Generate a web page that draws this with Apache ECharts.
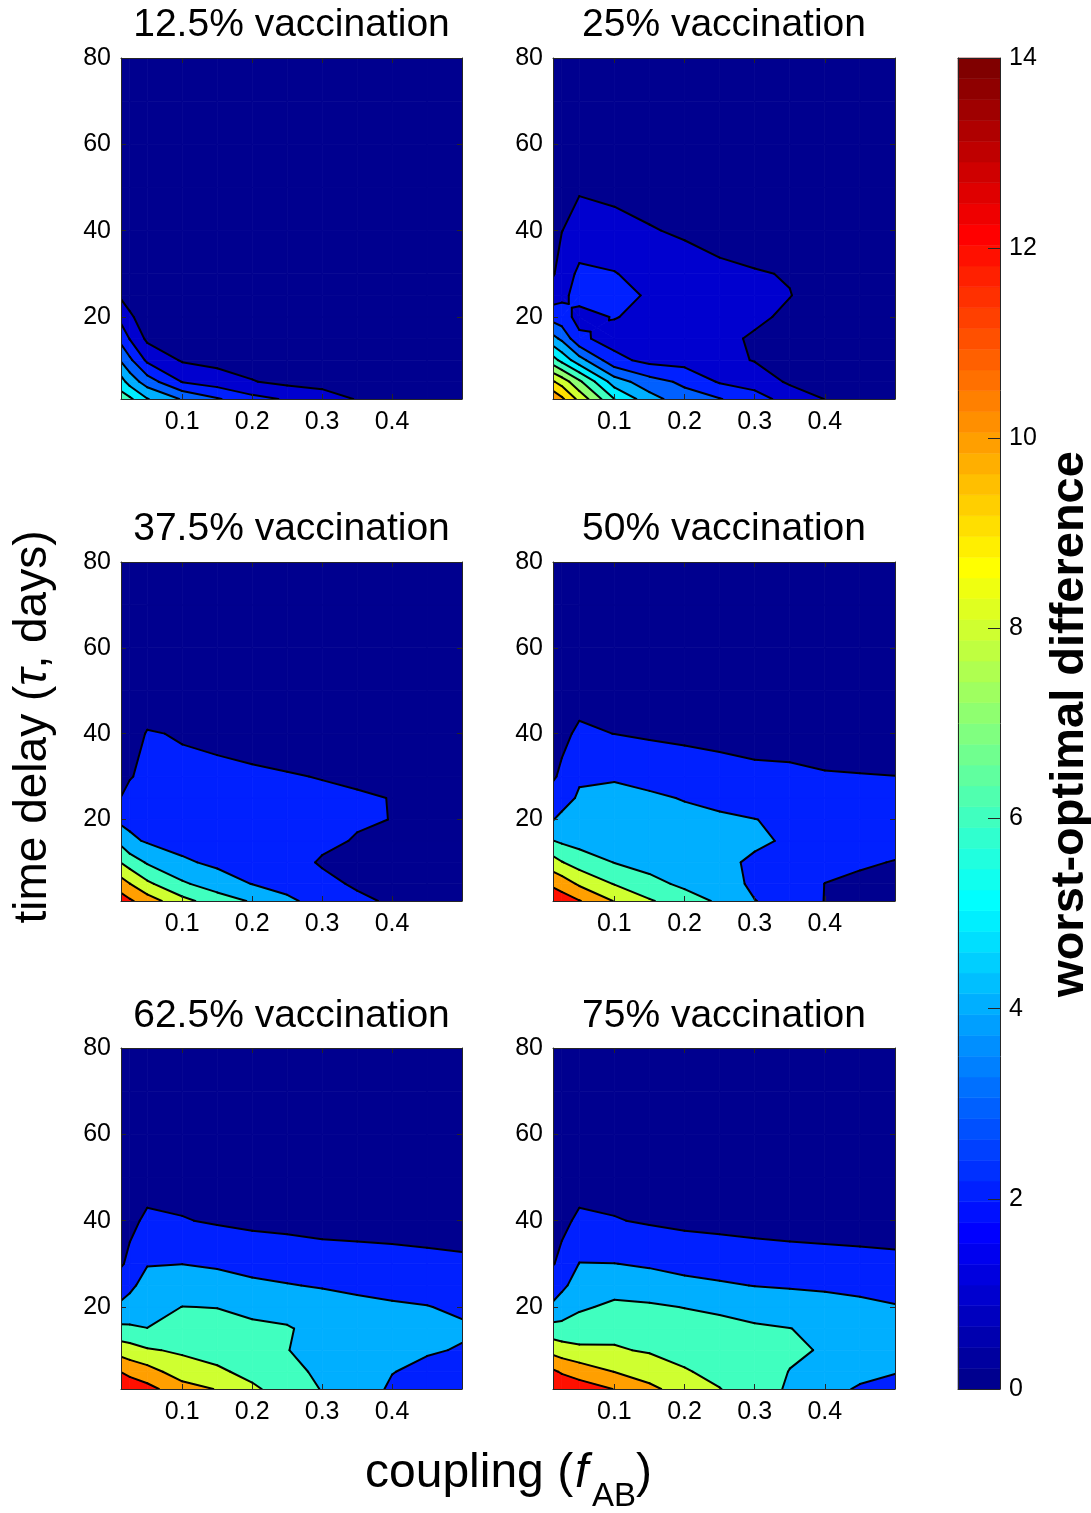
<!DOCTYPE html>
<html>
<head>
<meta charset="utf-8">
<title>worst-optimal difference</title>
<script src="https://cdn.jsdelivr.net/npm/echarts@6.0.0/dist/echarts.min.js"></script>
<style>
html, body { margin: 0; padding: 0; background: #fff; }
#chart { width: 1091px; height: 1513px; }
</style>
</head>
<body>
<div id="chart"></div>
<script>
// grid of the simulations
var coupling = [0.0125, 0.025, 0.05, 0.1, 0.15, 0.2, 0.25, 0.3, 0.35, 0.4, 0.45, 0.5];
var delay = [1, 5, 10, 15, 20, 25, 30, 40, 50, 60, 70, 80];

var xTicks = [0.1, 0.2, 0.3, 0.4];
var yTicks = [20, 40, 60, 80];
var cbarMax = 14;

var panelTitles = ['12.5% vaccination', '25% vaccination', '37.5% vaccination',
                   '50% vaccination', '62.5% vaccination', '75% vaccination'];

// contour levels of each panel
var levels125 = [0, 1, 2, 3, 4, 5, 6];
var levels25 = [0, 1, 2, 3, 4, 5, 6, 7, 8, 9, 10];
var levelsEven = [0, 2, 4, 6, 8, 10, 12];

// worst-optimal difference: one row per delay, one column per coupling
var diff125 = [
  [6.5, 6.2, 5.05, 3.9, 3.1, 2.3, 1.9, 1.4, 0.95, 0.8, 0.7, 0.6],
  [5.4, 4.6, 3.5, 1.95, 1.5, 1.05, 0.75, 0.7, 0.6, 0.5, 0.45, 0.4],
  [3.9, 3.2, 1.8, 0.9, 0.7, 0.6, 0.5, 0.45, 0.4, 0.35, 0.3, 0.3],
  [2.7, 1.95, 0.8, 0.5, 0.45, 0.4, 0.35, 0.3, 0.3, 0.25, 0.25, 0.2],
  [1.7, 1.15, 0.5, 0.4, 0.35, 0.3, 0.3, 0.25, 0.2, 0.2, 0.2, 0.2],
  [0.85, 0.6, 0.35, 0.3, 0.3, 0.25, 0.25, 0.2, 0.2, 0.15, 0.15, 0.15],
  [0.5, 0.4, 0.3, 0.25, 0.2, 0.2, 0.2, 0.15, 0.15, 0.15, 0.1, 0.1],
  [0.3, 0.25, 0.2, 0.15, 0.15, 0.15, 0.1, 0.1, 0.1, 0.1, 0.1, 0.1],
  [0.2, 0.15, 0.15, 0.1, 0.1, 0.1, 0.1, 0.1, 0.1, 0.1, 0.1, 0.1],
  [0.15, 0.1, 0.1, 0.1, 0.1, 0.1, 0.1, 0.1, 0.1, 0.1, 0.1, 0.1],
  [0.1, 0.1, 0.1, 0.1, 0.1, 0.1, 0.1, 0.1, 0.1, 0.1, 0.1, 0.1],
  [0.1, 0.1, 0.1, 0.1, 0.1, 0.1, 0.1, 0.1, 0.1, 0.1, 0.1, 0.1]
];
var diff25 = [
  [10.8, 10.2, 8.7, 6.0, 4.4, 3.4, 3.05, 2.4, 1.6, 0.98, 0.8, 0.7],
  [9.1, 8.6, 7.2, 4.5, 3.4, 2.8, 1.9, 1.6, 0.85, 0.7, 0.6, 0.55],
  [6.4, 5.7, 4.4, 2.3, 1.7, 1.6, 1.3, 0.95, 0.75, 0.6, 0.5, 0.45],
  [4.3, 3.8, 2.2, 1.6, 1.5, 1.4, 1.2, 0.9, 0.8, 0.6, 0.5, 0.45],
  [2.6, 2.4, 1.7, 2.05, 1.7, 1.5, 1.3, 1.15, 0.85, 0.65, 0.55, 0.5],
  [1.55, 1.8, 2.3, 2.3, 1.9, 1.6, 1.35, 1.2, 1.02, 0.7, 0.6, 0.5],
  [0.9, 1.45, 2.2, 2.05, 1.6, 1.35, 1.15, 1.05, 0.96, 0.65, 0.55, 0.5],
  [0.6, 0.98, 1.4, 1.25, 1.05, 0.9, 0.75, 0.65, 0.55, 0.45, 0.4, 0.35],
  [0.45, 0.6, 0.9, 0.8, 0.7, 0.6, 0.5, 0.45, 0.4, 0.35, 0.3, 0.3],
  [0.35, 0.4, 0.6, 0.5, 0.45, 0.4, 0.35, 0.3, 0.3, 0.25, 0.25, 0.2],
  [0.25, 0.3, 0.4, 0.35, 0.3, 0.3, 0.25, 0.2, 0.2, 0.2, 0.2, 0.15],
  [0.2, 0.2, 0.3, 0.25, 0.2, 0.2, 0.2, 0.15, 0.15, 0.15, 0.15, 0.1]
];
var diff375 = [
  [13.0, 12.3, 11.0, 8.6, 7.0, 5.8, 4.4, 3.2, 2.3, 1.8, 1.5, 1.3],
  [10.9, 10.05, 8.4, 6.3, 5.0, 3.95, 3.3, 2.4, 1.8, 1.5, 1.3, 1.2],
  [7.95, 7.1, 5.8, 4.3, 3.6, 3.1, 2.6, 1.85, 1.6, 1.4, 1.25, 1.15],
  [5.45, 4.4, 3.8, 3.3, 3.0, 2.7, 2.4, 2.3, 1.9, 1.7, 1.45, 1.3],
  [3.5, 3.5, 2.9, 2.8, 2.6, 2.45, 2.3, 2.2, 2.15, 1.98, 1.7, 1.5],
  [2.03, 2.5, 2.6, 2.5, 2.4, 2.3, 2.2, 2.15, 2.1, 1.98, 1.75, 1.55],
  [1.5, 1.9, 2.4, 2.3, 2.2, 2.12, 2.05, 1.97, 1.85, 1.7, 1.55, 1.4],
  [0.9, 1.3, 2.1, 1.9, 1.8, 1.7, 1.6, 1.5, 1.4, 1.3, 1.2, 1.1],
  [0.5, 0.7, 1.0, 1.0, 0.9, 0.8, 0.8, 0.7, 0.7, 0.6, 0.55, 0.5],
  [0.3, 0.4, 0.6, 0.55, 0.5, 0.45, 0.4, 0.4, 0.35, 0.35, 0.3, 0.3],
  [0.2, 0.3, 0.4, 0.35, 0.3, 0.3, 0.3, 0.25, 0.25, 0.2, 0.2, 0.2],
  [0.15, 0.2, 0.3, 0.25, 0.2, 0.2, 0.2, 0.2, 0.15, 0.15, 0.15, 0.15]
];
var diff50 = [
  [13.6, 13.0, 12.1, 9.9, 8.2, 6.9, 5.7, 4.05, 3.3, 1.95, 1.6, 1.4],
  [11.6, 11.1, 9.7, 7.9, 6.6, 5.6, 5.0, 3.6, 3.1, 1.98, 1.75, 1.55],
  [8.8, 8.1, 7.1, 5.95, 5.3, 4.9, 4.3, 3.8, 3.3, 2.5, 2.15, 1.95],
  [6.05, 5.7, 5.3, 5.0, 4.75, 4.5, 4.35, 4.2, 3.85, 2.9, 2.6, 2.4],
  [3.95, 4.35, 4.6, 4.6, 4.45, 4.25, 4.12, 4.02, 3.8, 3.0, 2.75, 2.55],
  [2.7, 3.4, 4.2, 4.3, 4.15, 3.95, 3.8, 3.4, 3.2, 2.8, 2.6, 2.45],
  [1.8, 2.3, 3.8, 3.9, 3.7, 3.3, 2.8, 2.45, 2.4, 2.15, 2.08, 2.02],
  [1.2, 1.6, 2.3, 1.98, 1.7, 1.5, 1.4, 1.3, 1.2, 1.1, 1.05, 1.0],
  [0.7, 0.9, 1.3, 1.2, 1.1, 1.0, 0.9, 0.8, 0.75, 0.7, 0.65, 0.6],
  [0.45, 0.5, 0.7, 0.65, 0.6, 0.55, 0.5, 0.45, 0.45, 0.4, 0.4, 0.35],
  [0.3, 0.35, 0.45, 0.4, 0.4, 0.35, 0.35, 0.3, 0.3, 0.3, 0.25, 0.25],
  [0.2, 0.25, 0.3, 0.3, 0.25, 0.25, 0.25, 0.2, 0.2, 0.2, 0.2, 0.2]
];
var diff625 = [
  [13.9, 13.4, 12.6, 10.8, 9.9, 8.3, 7.2, 5.9, 4.9, 3.75, 3.3, 2.9],
  [11.95, 11.4, 10.8, 9.0, 8.3, 7.5, 6.6, 5.6, 4.7, 4.05, 3.6, 3.3],
  [9.15, 8.85, 8.2, 7.7, 7.3, 6.9, 6.05, 5.3, 4.65, 4.3, 4.15, 3.9],
  [6.4, 6.3, 6.02, 6.6, 6.5, 6.3, 6.15, 5.4, 4.8, 4.5, 4.35, 4.2],
  [4.4, 4.7, 5.4, 6.02, 5.97, 5.6, 5.3, 4.9, 4.5, 4.2, 4.05, 3.75],
  [3.0, 3.6, 4.7, 5.0, 4.8, 4.4, 4.1, 3.85, 3.6, 3.5, 3.4, 3.2],
  [1.8, 2.4, 3.9, 3.98, 3.75, 3.3, 3.1, 2.8, 2.7, 2.6, 2.45, 2.3],
  [1.2, 1.6, 2.3, 2.1, 1.8, 1.6, 1.5, 1.4, 1.35, 1.3, 1.25, 1.2],
  [0.75, 0.95, 1.3, 1.2, 1.1, 1.0, 0.9, 0.85, 0.8, 0.75, 0.7, 0.65],
  [0.5, 0.55, 0.75, 0.7, 0.65, 0.6, 0.55, 0.5, 0.5, 0.45, 0.45, 0.4],
  [0.35, 0.4, 0.5, 0.45, 0.4, 0.4, 0.35, 0.35, 0.3, 0.3, 0.3, 0.3],
  [0.25, 0.3, 0.35, 0.3, 0.3, 0.25, 0.25, 0.25, 0.2, 0.2, 0.2, 0.2]
];
var diff75 = [
  [13.95, 13.4, 12.9, 11.95, 10.4, 9.2, 8.05, 7.1, 5.7, 4.6, 3.8, 3.3],
  [12.3, 11.8, 11.2, 9.97, 9.2, 8.15, 7.5, 6.9, 5.95, 5.0, 4.5, 4.1],
  [9.35, 8.95, 8.35, 8.2, 7.8, 7.4, 7.0, 6.6, 6.3, 5.85, 5.1, 4.7],
  [6.7, 6.6, 7.0, 7.4, 7.1, 6.8, 6.5, 6.2, 6.02, 5.7, 5.0, 4.6],
  [4.3, 4.9, 5.7, 6.4, 6.25, 5.95, 5.7, 5.4, 5.1, 4.85, 4.45, 4.1],
  [3.1, 3.6, 4.8, 5.2, 5.0, 4.6, 4.25, 3.95, 3.8, 3.65, 3.5, 3.35],
  [1.9, 2.45, 4.05, 4.03, 3.75, 3.3, 3.1, 2.8, 2.7, 2.6, 2.5, 2.4],
  [1.25, 1.6, 2.3, 2.1, 1.8, 1.6, 1.5, 1.45, 1.35, 1.3, 1.25, 1.2],
  [0.8, 1.0, 1.3, 1.2, 1.1, 1.0, 0.9, 0.85, 0.8, 0.75, 0.7, 0.65],
  [0.5, 0.6, 0.75, 0.7, 0.65, 0.6, 0.55, 0.5, 0.5, 0.45, 0.45, 0.4],
  [0.35, 0.4, 0.5, 0.45, 0.4, 0.4, 0.35, 0.35, 0.3, 0.3, 0.3, 0.3],
  [0.25, 0.3, 0.35, 0.3, 0.3, 0.25, 0.25, 0.25, 0.2, 0.2, 0.2, 0.2]
];

var panels = [
  {z: diff125, lv: levels125},
  {z: diff25, lv: levels25},
  {z: diff375, lv: levelsEven},
  {z: diff50, lv: levelsEven},
  {z: diff625, lv: levelsEven},
  {z: diff75, lv: levelsEven}
];

var FONT = "'Liberation Sans', Arial, Helvetica, sans-serif";
var AX = '#262626';

// MATLAB jet(64)
function jet(m) {
  var n = Math.ceil(m / 4), u = [], i;
  for (i = 1; i <= n; i++) u.push(i / n);
  for (i = 1; i < n; i++) u.push(1);
  for (i = n; i >= 1; i--) u.push(i / n);
  var J = [];
  for (i = 0; i < m; i++) J.push([0, 0, 0]);
  var off = Math.ceil(n / 2) - (m % 4 === 1 ? 1 : 0);
  for (var k = 0; k < u.length; k++) {
    var g = off + k + 1, r = g + n, b = g - n;
    if (g >= 1 && g <= m) J[g - 1][1] = u[k];
    if (r >= 1 && r <= m) J[r - 1][0] = u[k];
    if (b >= 1 && b <= m) J[b - 1][2] = u[k];
  }
  return J.map(function (c) {
    return 'rgb(' + Math.round(c[0] * 255) + ',' + Math.round(c[1] * 255) + ',' + Math.round(c[2] * 255) + ')';
  });
}
var JET = jet(64);
function colorOf(v) {
  var k = Math.floor(v / cbarMax * 64);
  return JET[Math.max(0, Math.min(63, k))];
}

// clip a polygon of [x, y, value] points against one contour level
function clip(poly, lvl, keepAbove) {
  var out = [];
  for (var k = 0; k < poly.length; k++) {
    var a = poly[k], b = poly[(k + 1) % poly.length];
    var ina = keepAbove ? a[2] >= lvl : a[2] < lvl;
    var inb = keepAbove ? b[2] >= lvl : b[2] < lvl;
    if (ina) out.push(a);
    if (ina !== inb) {
      var t = (lvl - a[2]) / (b[2] - a[2]);
      out.push([a[0] + t * (b[0] - a[0]), a[1] + t * (b[1] - a[1]), lvl]);
    }
  }
  return out;
}

// one cell as a quad, or as four triangles round its centre when a level makes it a saddle
function cellPieces(Z, lv, i, j) {
  var a = [coupling[i], delay[j], Z[j][i]];
  var b = [coupling[i + 1], delay[j], Z[j][i + 1]];
  var c = [coupling[i + 1], delay[j + 1], Z[j + 1][i + 1]];
  var d = [coupling[i], delay[j + 1], Z[j + 1][i]];
  var saddle = lv.some(function (L) {
    var sa = a[2] >= L, sb = b[2] >= L, sc = c[2] >= L, sd = d[2] >= L;
    return sa === sc && sb === sd && sa !== sb;
  });
  if (!saddle) return [[a, b, c, d]];
  var m = [(a[0] + c[0]) / 2, (a[1] + c[1]) / 2, (a[2] + b[2] + c[2] + d[2]) / 4];
  return [[a, b, m], [b, c, m], [c, d, m], [d, a, m]];
}

var cells = [];
for (var j = 0; j < delay.length - 1; j++) {
  for (var i = 0; i < coupling.length - 1; i++) {
    cells.push([coupling[i], delay[j], i, j]);
  }
}

function fillRenderer(Z, lv) {
  return function (params, api) {
    var i = api.value(2), j = api.value(3), kids = [];
    cellPieces(Z, lv, i, j).forEach(function (poly) {
      for (var k = 0; k < lv.length; k++) {
        var lo = k === 0 ? -Infinity : lv[k];
        var hi = k === lv.length - 1 ? Infinity : lv[k + 1];
        var p = clip(clip(poly, lo, true), hi, false);
        if (p.length < 3) continue;
        var col = colorOf(lv[k]);
        kids.push({
          type: 'polygon',
          shape: {points: p.map(function (q) { return api.coord([q[0], q[1]]); })},
          style: {fill: col, stroke: col, lineWidth: 0.8}
        });
      }
    });
    return {type: 'group', children: kids};
  };
}

function lineRenderer(Z, lv) {
  return function (params, api) {
    var i = api.value(2), j = api.value(3), kids = [];
    cellPieces(Z, lv, i, j).forEach(function (poly) {
      for (var k = 1; k < lv.length; k++) {
        var L = lv[k], pts = [];
        for (var e = 0; e < poly.length; e++) {
          var a = poly[e], b = poly[(e + 1) % poly.length];
          if ((a[2] >= L) !== (b[2] >= L)) {
            var t = (L - a[2]) / (b[2] - a[2]);
            pts.push(api.coord([a[0] + t * (b[0] - a[0]), a[1] + t * (b[1] - a[1])]));
          }
        }
        if (pts.length === 2) {
          kids.push({
            type: 'line',
            shape: {x1: pts[0][0], y1: pts[0][1], x2: pts[1][0], y2: pts[1][1]},
            style: {stroke: '#000', lineWidth: 2, lineCap: 'round'}
          });
        }
      }
    });
    return {type: 'group', children: kids};
  };
}

function axisX(n, pos, labels) {
  return {
    gridIndex: n, type: 'value', position: pos,
    min: coupling[0], max: coupling[coupling.length - 1], z: 10,
    axisLine: {show: true, onZero: false, lineStyle: {color: AX, width: 1}},
    axisTick: {show: true, inside: true, length: 5, customValues: xTicks, lineStyle: {color: AX}},
    axisLabel: {show: labels, customValues: xTicks, margin: 11, fontSize: 25, fontFamily: FONT, color: '#000',
                formatter: function (v) { return v.toFixed(1); }},
    splitLine: {show: false}
  };
}
function axisY(n, pos, labels) {
  return {
    gridIndex: n, type: 'value', position: pos,
    min: delay[0], max: delay[delay.length - 1], z: 10,
    axisLine: {show: true, onZero: false, lineStyle: {color: AX, width: 1}},
    axisTick: {show: true, inside: true, length: 5, customValues: yTicks, lineStyle: {color: AX}},
    axisLabel: {show: labels, customValues: yTicks, margin: 10, fontSize: 25, fontFamily: FONT, color: '#000'},
    splitLine: {show: false}
  };
}

var colLeft = [121, 553], colWidth = [341, 342];
var rowTop = [58, 562, 1048], rowHeight = [341, 339, 341];
var titleY = [25, 529, 1016];

var grids = [], xAxes = [], yAxes = [], series = [], graphics = [];

panels.forEach(function (p, n) {
  var c = n % 2, r = Math.floor(n / 2);
  grids.push({left: colLeft[c], top: rowTop[r], width: colWidth[c], height: rowHeight[r]});
  xAxes.push(axisX(n, 'bottom', true), axisX(n, 'top', false));
  yAxes.push(axisY(n, 'left', true), axisY(n, 'right', false));
  series.push({
    type: 'custom', xAxisIndex: 2 * n, yAxisIndex: 2 * n, data: cells,
    encode: {x: 0, y: 1}, renderItem: fillRenderer(p.z, p.lv),
    clip: true, silent: true, z: 2
  });
  series.push({
    type: 'custom', xAxisIndex: 2 * n, yAxisIndex: 2 * n, data: cells,
    encode: {x: 0, y: 1}, renderItem: lineRenderer(p.z, p.lv),
    clip: true, silent: true, z: 3
  });
  graphics.push({
    type: 'text', x: colLeft[c] + colWidth[c] / 2, y: titleY[r],
    style: {text: panelTitles[n], fontSize: 39, fontFamily: FONT, fill: '#000',
            align: 'center', verticalAlign: 'middle', textAlign: 'center', textVerticalAlign: 'middle'}
  });
});

// colour bar
var cbarBins = [];
for (var b = 0; b < 64; b++) cbarBins.push([0.5, (b + 0.5) * cbarMax / 64, b]);

grids.push({left: 958, top: 58, width: 42, height: 1331});
function cbarX(pos) {
  return {gridIndex: 6, type: 'value', position: pos, min: 0, max: 1, z: 10,
          axisLine: {show: true, onZero: false, lineStyle: {color: AX, width: 1}},
          axisTick: {show: false}, axisLabel: {show: false}, splitLine: {show: false}};
}
xAxes.push(cbarX('bottom'), cbarX('top'));
yAxes.push(
  {gridIndex: 6, type: 'value', position: 'left', min: 0, max: cbarMax, z: 10,
   axisLine: {show: true, onZero: false, lineStyle: {color: AX, width: 1}},
   axisTick: {show: false}, axisLabel: {show: false}, splitLine: {show: false}},
  {gridIndex: 6, type: 'value', position: 'right', min: 0, max: cbarMax, interval: 2, z: 10,
   axisLine: {show: true, onZero: false, lineStyle: {color: AX, width: 1}},
   axisTick: {show: true, inside: true, length: 12, lineStyle: {color: AX}},
   axisLabel: {margin: 9, fontSize: 25, fontFamily: FONT, color: '#000'},
   splitLine: {show: false}}
);
series.push({
  type: 'custom', xAxisIndex: 12, yAxisIndex: 12, data: cbarBins, encode: {x: 0, y: 1},
  silent: true, z: 2,
  renderItem: function (params, api) {
    var k = api.value(2);
    var p0 = api.coord([0, (k + 1) * cbarMax / 64]);
    var p1 = api.coord([1, k * cbarMax / 64]);
    return {type: 'rect', shape: {x: p0[0], y: p0[1], width: p1[0] - p0[0], height: p1[1] - p0[1]},
            style: {fill: JET[k], stroke: JET[k], lineWidth: 0.6}};
  }
});

// shared labels
graphics.push({
  type: 'text', x: 1070, y: 724, rotation: Math.PI / 2,
  style: {text: 'worst-optimal difference', fontSize: 47, fontWeight: 'bold', fontFamily: FONT, fill: '#000',
          align: 'center', verticalAlign: 'middle', textAlign: 'center', textVerticalAlign: 'middle'}
});
graphics.push({
  type: 'text', x: 33, y: 727, rotation: Math.PI / 2,
  style: {
    text: '{n|time delay (}{i|τ}{n|, days)}',
    align: 'center', verticalAlign: 'middle', textAlign: 'center', textVerticalAlign: 'middle',
    fontSize: 46, fontFamily: FONT, fill: '#000',
    rich: {
      n: {fontSize: 46, fontFamily: FONT, fill: '#000'},
      i: {fontSize: 46, fontFamily: FONT, fontStyle: 'italic', fill: '#000'}
    }
  }
});
var xlabelParts = [
  {t: 'coupling (', x: 365, y: 1474, size: 48, italic: false},
  {t: 'f', x: 575, y: 1474, size: 48, italic: true},
  {t: 'AB', x: 592, y: 1497, size: 33, italic: false},
  {t: ')', x: 636, y: 1474, size: 48, italic: false}
];
xlabelParts.forEach(function (q) {
  graphics.push({
    type: 'text', x: q.x, y: q.y,
    style: {text: q.t, fontSize: q.size, fontStyle: q.italic ? 'italic' : 'normal', fontFamily: FONT, fill: '#000',
            align: 'left', verticalAlign: 'middle', textAlign: 'left', textVerticalAlign: 'middle'}
  });
});

var chart = echarts.init(document.getElementById('chart'), null, {renderer: 'canvas'});
chart.setOption({
  backgroundColor: '#fff',
  animation: false,
  grid: grids,
  xAxis: xAxes,
  yAxis: yAxes,
  series: series,
  graphic: graphics
});
</script>
</body>
</html>
